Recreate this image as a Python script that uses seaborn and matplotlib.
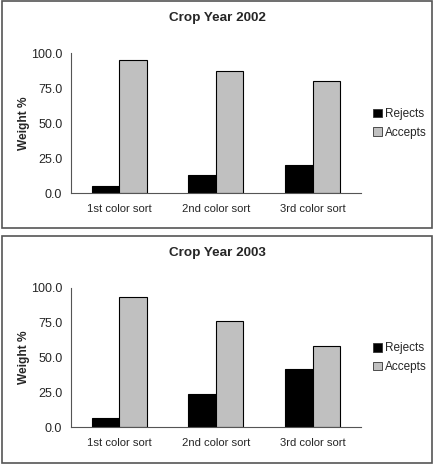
import seaborn as sns
import matplotlib
matplotlib.use('Agg')
import matplotlib.pyplot as plt
import matplotlib.patches as mpatches
import pandas as pd

sorts = ['1st color sort', '2nd color sort', '3rd color sort']
series = ['Rejects', 'Accepts']
rejects_2002 = [5.0, 12.8, 19.8]
accepts_2002 = [95.0, 87.2, 80.2]
rejects_2003 = [7.0, 23.6, 41.5]
accepts_2003 = [93.0, 76.4, 58.5]
years = ['Crop Year 2002', 'Crop Year 2003']

sns.set_style('white')
plt.rcParams['font.family'] = ['Liberation Sans', 'DejaVu Sans']

W, H = 434, 469
fig = plt.figure(figsize=(W / 100, H / 100), dpi=100)

def fx(px):
    return px / W

def fy(py):
    return 1 - py / H

panels = [
    # (title, rejects, accepts, panel top, panel bottom, axes top, axes bottom)
    (years[0], rejects_2002, accepts_2002, 1, 228.5, 53.3, 193.0),
    (years[1], rejects_2003, accepts_2003, 236, 462.5, 287.7, 427.3),
]

for title, rej, acc, ptop, pbot, atop, abot in panels:
    # panel frame
    fig.patches.append(mpatches.Rectangle((fx(1.5), fy(pbot)), fx(431.5 - 1.5), fy(ptop) - fy(pbot),
                                          transform=fig.transFigure, fill=False,
                                          edgecolor='#555555', linewidth=1.2))
    fig.text(fx(217), fy(ptop + 17), title, ha='center', va='center',
             fontsize=9.7, fontweight='bold')

    df = pd.DataFrame({
        'sort': sorts * 2,
        'series': [series[0]] * 3 + [series[1]] * 3,
        'value': rej + acc,
    })
    ax = fig.add_axes([fx(70.7), fy(abot), fx(361) - fx(70.7), fy(atop) - fy(abot)])
    sns.barplot(data=df, x='sort', y='value', hue='series', ax=ax,
                palette=['#000000', '#C0C0C0'], width=0.57,
                edgecolor='black', linewidth=0.8)
    ax.set_ylim(0, 100)
    ax.set_xlim(-0.5, 2.5)
    ax.set_yticks([0, 25, 50, 75, 100])
    ax.set_yticklabels(['%.1f' % v for v in [0, 25, 50, 75, 100]])
    ax.set_xticks([-0.5, 0.5, 1.5, 2.5], minor=True)
    ax.tick_params(axis='x', which='major', length=0, pad=8, labelsize=8.1)
    ax.tick_params(axis='x', which='minor', length=4, width=0.8, color='#555555', direction='out')
    ax.tick_params(axis='y', length=4, width=0.8, color='#555555', direction='out', pad=2, labelsize=9)
    for s in ['top', 'right']:
        ax.spines[s].set_visible(False)
    for s in ['left', 'bottom']:
        ax.spines[s].set_color('#555555')
        ax.spines[s].set_linewidth(0.8)
    ax.set_xlabel('')
    ax.set_ylabel('Weight %', fontsize=8.6, fontweight='bold', labelpad=1)
    ax.legend_.remove()
    handles = [mpatches.Patch(facecolor=c, edgecolor='#333333', linewidth=0.6)
               for c in ['#000000', '#C0C0C0']]
    fig.legend(handles, series, loc='center left',
               bbox_to_anchor=(fx(368), fy(atop + 70)), frameon=False,
               fontsize=8.5, handlelength=0.75, handleheight=0.75,
               handletextpad=0.3, labelspacing=0.55, borderaxespad=0)

fig.savefig('out.png', dpi=100)
